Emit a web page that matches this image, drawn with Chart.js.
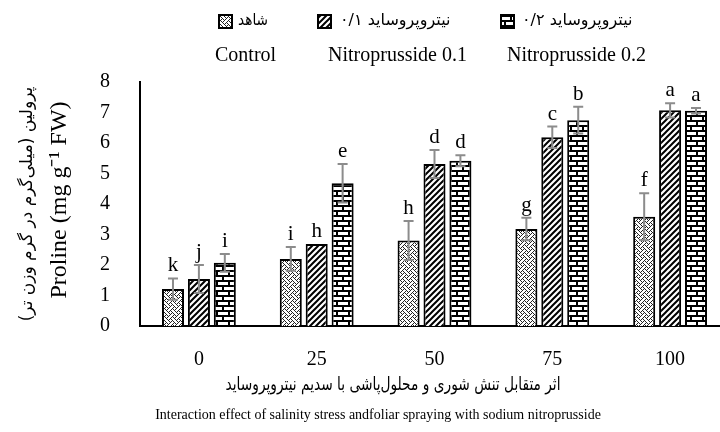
<!DOCTYPE html>
<html>
<head>
<meta charset="utf-8">
<script src="https://cdn.jsdelivr.net/npm/chart.js@4.4.1/dist/chart.umd.min.js"></script>
<style>
html,body{margin:0;padding:0;background:#fff;overflow:hidden;}
#wrap{position:relative;width:731px;height:432px;}
</style>
</head>
<body>
<div id="wrap"><canvas id="c" width="731" height="432"></canvas></div>
<script>
// ---- data ----
const categories = ['0', '25', '50', '75', '100'];
const seriesNamesFa = ['شاهد', 'نیتروپروساید ۰/۱', 'نیتروپروساید ۰/۲'];
const seriesNamesEn = ['Control', 'Nitroprusside 0.1', 'Nitroprusside 0.2'];
const controlValues = [1.21, 2.20, 2.80, 3.18, 3.58];
const np01Values    = [1.54, 2.69, 5.31, 6.19, 7.07];
const np02Values    = [2.07, 4.68, 5.42, 6.75, 7.06];
const controlErr = [0.35, 0.39, 0.64, 0.37, 0.77];
const np01Err    = [0.46, 0.00, 0.46, 0.35, 0.23];
const np02Err    = [0.29, 0.63, 0.18, 0.44, 0.09];
const controlLetters = ['k', 'i', 'h', 'g', 'f'];
const np01Letters    = ['j', 'h', 'd', 'c', 'a'];
const np02Letters    = ['i', 'e', 'd', 'b', 'a'];
const yTicks = [0, 1, 2, 3, 4, 5, 6, 7, 8];
const yTitleFa = 'پرولین (میلی‌گرم در گرم وزن تر)';
const yTitleEn = 'Proline (mg g⁻¹ FW)';
const xTitleFa = 'اثر متقابل تنش شوری و محلول‌پاشی با سدیم نیتروپروساید';
const xTitleEn = 'Interaction effect of salinity stress andfoliar spraying with sodium nitroprusside';

const errs = [controlErr, np01Err, np02Err];
const letters = [controlLetters, np01Letters, np02Letters];

// ---- patterns ----
function tile(w, h, draw) {
  const c = document.createElement('canvas');
  c.width = w; c.height = h;
  const g = c.getContext('2d');
  g.fillStyle = '#fff'; g.fillRect(0, 0, w, h);
  draw(g);
  return c;
}
const weaveTile = tile(8, 8, g => {
  const rows = ['10001000','01010100','00100010','01000101','10001000','00010101','00100010','01010001'];
  g.fillStyle = '#222';
  rows.forEach((r, y) => { for (let x = 0; x < 8; x++) if (r[x] === '1') g.fillRect(x, y, 1, 1); });
});
const hatchTile = tile(6, 6, g => {
  g.strokeStyle = '#000'; g.lineWidth = 2;
  g.beginPath();
  g.moveTo(-1, 7); g.lineTo(7, -1);
  g.moveTo(-4, 4); g.lineTo(4, -4);
  g.moveTo(2, 10); g.lineTo(10, 2);
  g.stroke();
});
const brickTile = tile(12, 10, g => {
  g.fillStyle = '#000';
  g.fillRect(0, 0, 12, 2);
  g.fillRect(0, 5, 12, 2);
  g.fillRect(0, 2, 2, 3);
  g.fillRect(6, 7, 2, 3);
});
const ctx = document.getElementById('c').getContext('2d');
const patterns = [ctx.createPattern(weaveTile, 'repeat'), ctx.createPattern(hatchTile, 'repeat'), ctx.createPattern(brickTile, 'repeat')];

// ---- plugins ----
const decor = {
  id: 'decor',
  afterDatasetsDraw(chart) {
    const c = chart.ctx, ys = chart.scales.y;
    c.save();
    chart.data.datasets.forEach((ds, i) => {
      const meta = chart.getDatasetMeta(i);
      meta.data.forEach((bar, j) => {
        const v = ds.data[j], e = errs[i][j];
        let top = bar.y;
        if (e > 0) {
          const yt = ys.getPixelForValue(v + e), yb = ys.getPixelForValue(v - e);
          c.strokeStyle = '#8c8c8c'; c.lineWidth = 2;
          c.beginPath();
          c.moveTo(bar.x, yt); c.lineTo(bar.x, yb);
          c.moveTo(bar.x - 5, yt); c.lineTo(bar.x + 5, yt);
          c.moveTo(bar.x - 5, yb); c.lineTo(bar.x + 5, yb);
          c.stroke();
          top = yt;
        }
        c.fillStyle = '#000';
        c.font = '21px "Liberation Serif"';
        c.textAlign = 'center'; c.textBaseline = 'bottom';
        c.fillText(letters[i][j], bar.x, top - 2);
      });
    });
    c.restore();
  },
  afterDraw(chart) {
    const c = chart.ctx;
    c.save();
    // legend
    const boxX = [218, 317, 500];
    const faX = [238, 340, 522];
    const faW = [30, 127, 125];
    const enX = [215, 328, 507];
    for (let i = 0; i < 3; i++) {
      c.fillStyle = patterns[i];
      c.fillRect(boxX[i], 14, 15, 15);
      c.strokeStyle = '#000'; c.lineWidth = 2;
      c.strokeRect(boxX[i] + 1, 15, 13, 13);
      c.fillStyle = '#000';
      c.direction = 'rtl';
      c.font = '16px "DejaVu Sans"';
      c.textAlign = 'left'; c.textBaseline = 'middle';
      c.fillText(seriesNamesFa[i], faX[i], 21, faW[i]);
      c.direction = 'ltr';
      c.font = '20px "Liberation Serif"';
      c.fillText(seriesNamesEn[i], enX[i], 56);
    }
    // y title
    c.save();
    c.translate(28, 204); c.rotate(-Math.PI / 2);
    c.direction = 'rtl'; c.textAlign = 'center'; c.textBaseline = 'middle';
    c.font = '17px "DejaVu Sans"';
    c.fillText(yTitleFa, 0, 0, 255);
    c.restore();
    c.save();
    c.translate(60, 200); c.rotate(-Math.PI / 2);
    c.direction = 'ltr'; c.textAlign = 'center'; c.textBaseline = 'middle';
    c.font = '24px "Liberation Serif"';
    c.fillText(yTitleEn, 0, 0);
    c.restore();
    // x titles
    c.direction = 'rtl'; c.textAlign = 'center'; c.textBaseline = 'middle';
    c.font = '18px "DejaVu Sans"';
    c.fillText(xTitleFa, 393, 385, 335);
    c.direction = 'ltr';
    c.font = '14px "Liberation Serif"';
    c.fillText(xTitleEn, 378, 415, 458);
    c.restore();
  }
};

new Chart(ctx, {
  type: 'bar',
  data: {
    labels: categories,
    datasets: [
      { label: seriesNamesEn[0], data: controlValues, backgroundColor: patterns[0], borderColor: '#000', borderWidth: 2 },
      { label: seriesNamesEn[1], data: np01Values, backgroundColor: patterns[1], borderColor: '#000', borderWidth: 2 },
      { label: seriesNamesEn[2], data: np02Values, backgroundColor: patterns[2], borderColor: '#000', borderWidth: 2 }
    ]
  },
  options: {
    responsive: false,
    animation: false,
    devicePixelRatio: 1,
    categoryPercentage: 0.66,
    barPercentage: 0.85,
    layout: { padding: { top: 82, right: 2, left: 0, bottom: 0 } },
    plugins: { legend: { display: false }, tooltip: { enabled: false }, title: { display: false } },
    scales: {
      x: {
        grid: { display: false },
        border: { display: true, color: '#000', width: 2 },
        ticks: { color: '#000', font: { family: 'Liberation Serif', size: 20 }, padding: 14, maxRotation: 0 },
        afterFit: s => { s.height = 106; }
      },
      y: {
        min: 0, max: 8,
        grid: { display: false },
        border: { display: true, color: '#000', width: 2 },
        afterBuildTicks: s => { s.ticks = yTicks.map(v => ({ value: v })); },
        ticks: { color: '#000', font: { family: 'Liberation Serif', size: 20 }, padding: 22 },
        afterFit: s => { s.width = 140; }
      }
    }
  },
  plugins: [decor]
});
</script>
</body>
</html>
